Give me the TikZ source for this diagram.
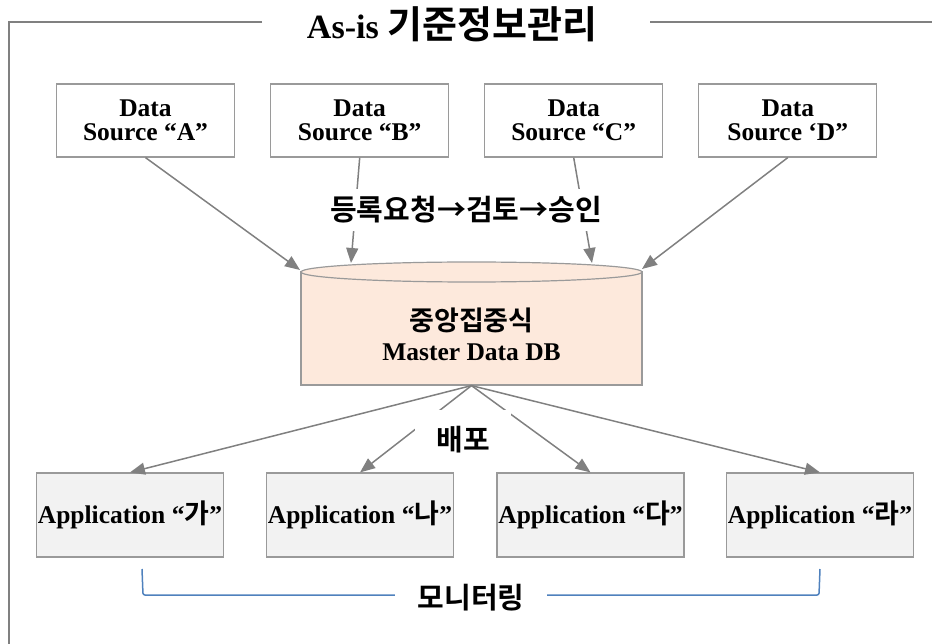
\documentclass[tikz,border=0pt]{standalone}
\usepackage{fontspec}
\setmainfont{Liberation Serif}
\newfontfamily\krfont{Noto Sans CJK KR}[BoldFont={Noto Sans CJK KR Bold}]
\usetikzlibrary{arrows.meta,positioning,calc}
\newcommand{\kor}[1]{{\krfont\bfseries #1}}
\definecolor{lineg}{HTML}{808080}
\definecolor{boxg}{HTML}{9A9A9A}
\definecolor{appfill}{HTML}{F2F2F2}
\definecolor{dbfill}{HTML}{FDE9DC}
\definecolor{monblue}{HTML}{4F81BD}
\begin{document}
\begin{tikzpicture}[x=1pt,y=-1pt,
  frameline/.style={draw=lineg,line width=1.8pt},
  srcbox/.style={draw=boxg,line width=1.2pt,fill=white,minimum width=178pt,minimum height=73pt,inner sep=0pt,align=center,font=\fontsize{25.5}{24.5}\selectfont\bfseries},
  appbox/.style={draw=boxg,line width=1.2pt,fill=appfill,minimum width=187pt,minimum height=84pt,inner sep=0pt,align=center,font=\fontsize{25.5}{25}\selectfont\bfseries},
  conn/.style={draw=lineg,line width=1.5pt,-{Triangle[length=15pt,width=12pt]}},
  lbl/.style={fill=white,inner sep=0pt,font=\fontsize{29}{29}\selectfont},
  dbstyle/.style={draw=boxg,line width=1.2pt,fill=dbfill},
]
\useasboundingbox (0,0) rectangle (932,644);
% frame
\draw[frameline] (262,22) -- (9,22) -- (9,644);
\draw[frameline] (650,22) -- (932,22);
\node[inner sep=0pt,font=\fontsize{34}{34}\selectfont\bfseries] (title) at (452,24) {As-is \kor{\fontsize{38}{38}\selectfont 기준정보관리}};

% sources
\node[srcbox] (A) at (145.5,120.5) {Data\\Source “A”};
\node[srcbox] (B) at (359.7,120.5) {Data\\Source “B”};
\node[srcbox] (C) at (573.7,120.5) {Data\\Source “C”};
\node[srcbox] (D) at (787.8,120.5) {Data\\Source ‘D”};

% database
\node[dbstyle,minimum width=341pt,minimum height=113pt,inner sep=0pt] (db) at (471.5,328.5) {};
\draw[dbstyle] (471.5,272) ellipse [x radius=170.5pt, y radius=10pt];
\node[align=center,inner sep=0pt,font=\fontsize{25.5}{30}\selectfont\bfseries] (dbtext) at (471.5,334) {\kor{\fontsize{27}{30}\selectfont 중앙집중식}\\Master Data DB};

\coordinate (tA) at (300,270);
\coordinate (tB) at (351,263);
\coordinate (tC) at (592,263);
\coordinate (tD) at (642,269);

\draw[conn] (A.south) -- (tA);
\draw[conn] (D.south) -- (tD);
\draw[conn] (B.south) -- (tB);
\draw[conn] (C.south) -- (tC);
\node[lbl,minimum height=42pt,inner xsep=3pt] (reg) at (466,210) {\kor{등록요청→검토→승인}};

% applications
\node[appbox] (P1) at (130,515) {Application “\kor{\fontsize{27}{25}\selectfont 가}”};
\node[appbox] (P2) at (360,515) {Application “\kor{\fontsize{27}{25}\selectfont 나}”};
\node[appbox] (P3) at (590.5,515) {Application “\kor{\fontsize{27}{25}\selectfont 다}”};
\node[appbox] (P4) at (820,515) {Application “\kor{\fontsize{27}{25}\selectfont 라}”};

\draw[conn] (db.south) -- (P1.north);
\draw[conn] (db.south) -- (P4.north);
\draw[conn] (db.south) -- (P2.north);
\draw[conn] (db.south) -- (P3.north);
\node[lbl,minimum width=96pt,minimum height=60pt] (dist) at (463,440) {\kor{배포}};

% monitoring
\coordinate (m1) at (142,569);
\coordinate (m2) at (820,569);
\draw[draw=monblue,line width=1.5pt,rounded corners=2pt] (m1) -- (143,595) -- (819,595) -- (m2);
\node[lbl,minimum width=152pt,minimum height=30pt] (mon) at (471,598) {\kor{모니터링}};
\end{tikzpicture}
\end{document}
